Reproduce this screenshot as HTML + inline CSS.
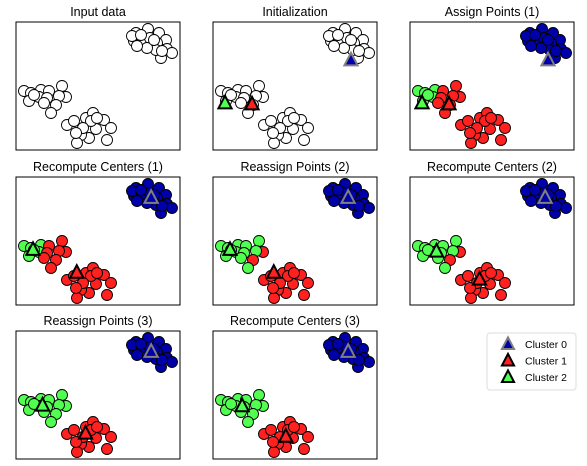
<!DOCTYPE html>
<html><head><meta charset="utf-8">
<style>body{margin:0;background:#fff}svg{display:block;font-family:"Liberation Sans","DejaVu Sans",sans-serif}</style>
</head><body>
<svg id="c" width="587" height="466"></svg>
<script>
// data points in panel-relative coordinates (0..164 x, 0..128 y)
const pointsX = [120,132,143,150,118,126,134,141,151,156,145,140,131,121,116,138,146,125,
  8,15,25,33,46,50,43,23,13,31,28,40,35,18,
  51,58,70,77,88,95,91,80,73,65,61,75,67,60,81];
const pointsY = [11,7,11,18,19,19,16,21,27,31,36,28,26,24,14,18,29,13,
  69,71,68,69,64,75,74,75,79,76,81,83,91,73,
  103,99,96,91,98,106,118,107,116,113,121,99,106,111,96];
const initCentersX = [138,39,12];
const initCentersY = [38,82,81];
const colors = ['#0000aa','#ff2020','#50ff50'];
const edgeColors = ['#808080','#000','#000'];
const titles = ['Input data','Initialization','Assign Points (1)','Recompute Centers (1)','Reassign Points (2)','Recompute Centers (2)','Reassign Points (3)','Recompute Centers (3)'];
const legendLabels = ['Cluster 0','Cluster 1','Cluster 2'];

const NS='http://www.w3.org/2000/svg';
const svg=document.getElementById('c');
function mk(t,a,p){const e=document.createElementNS(NS,t);for(const k in a)e.setAttribute(k,a[k]);(p||svg).appendChild(e);return e;}
function assign(cx,cy){return pointsX.map((x,i)=>{let b=0,bd=1e9;for(let k=0;k<3;k++){const d=(x-cx[k])**2+(pointsY[i]-cy[k])**2;if(d<bd){bd=d;b=k;}}return b;});}
function means(lab){const cx=[],cy=[];for(let k=0;k<3;k++){let sx=0,sy=0,n=0;lab.forEach((l,i)=>{if(l===k){sx+=pointsX[i];sy+=pointsY[i];n++;}});cx.push(n?sx/n:0);cy.push(n?sy/n:0);}return [cx,cy];}
// build states
const states=[];
states.push({labels:null,centers:null});
let cx=initCentersX.slice(),cy=initCentersY.slice();
states.push({labels:null,centers:[cx,cy]});
let lab=assign(cx,cy);
states.push({labels:lab,centers:[cx,cy]});
for(let it=0;it<3;it++){
  const m=means(lab);cx=m[0];cy=m[1];
  states.push({labels:lab,centers:[cx,cy]});
  if(it<2){lab=assign(cx,cy);states.push({labels:lab,centers:[cx,cy]});}
}
const colX=[16,213,410],rowY=[22,177,331],W=164,H=128;
function tri(g,x,y,k,s){const h=s;mk('polygon',{points:`${x},${y-h*0.6} ${x-h*0.55},${y+h*0.45} ${x+h*0.55},${y+h*0.45}`,fill:colors[k],stroke:edgeColors[k],'stroke-width':2},g);}
states.forEach((st,p)=>{
  const ox=colX[p%3],oy=rowY[Math.floor(p/3)];
  const g=mk('g',{transform:`translate(${ox},${oy})`});
  
  
  const t=mk('text',{x:W/2,y:-6,'text-anchor':'middle','font-size':12.5,fill:'#000'},g);t.textContent=titles[p];
  
  
  mk('rect',{x:0,y:0,width:W,height:H,fill:'#fff'},g);
  const cg=mk('g',{},g);
  pointsX.forEach((x,i)=>{
    const c=mk('circle',{cx:x,cy:pointsY[i],r:5.5,fill:st.labels?colors[st.labels[i]]:'#fff',stroke:'#000','stroke-width':0.9},cg);
    
    
  });
  if(st.centers){for(let k=0;k<3;k++){tri(g,st.centers[0][k],st.centers[1][k],k,12);}}
  mk('rect',{x:0,y:0,width:W,height:H,fill:'none',stroke:'#000','stroke-width':1},g);
});
// legend
const lg=mk('g',{transform:'translate(487,333)'});


mk('rect',{x:0,y:0,width:89,height:57,rx:3,fill:'#fff',stroke:'#ddd'},lg);
legendLabels.forEach((l,k)=>{
  const y=11+k*16.5;
  tri(lg,21,y,k,11);
  const t=mk('text',{x:38,y:y+4,'font-size':10.5,fill:'#000'},lg);t.textContent=l;
  
  
});
</script>
</body></html>
